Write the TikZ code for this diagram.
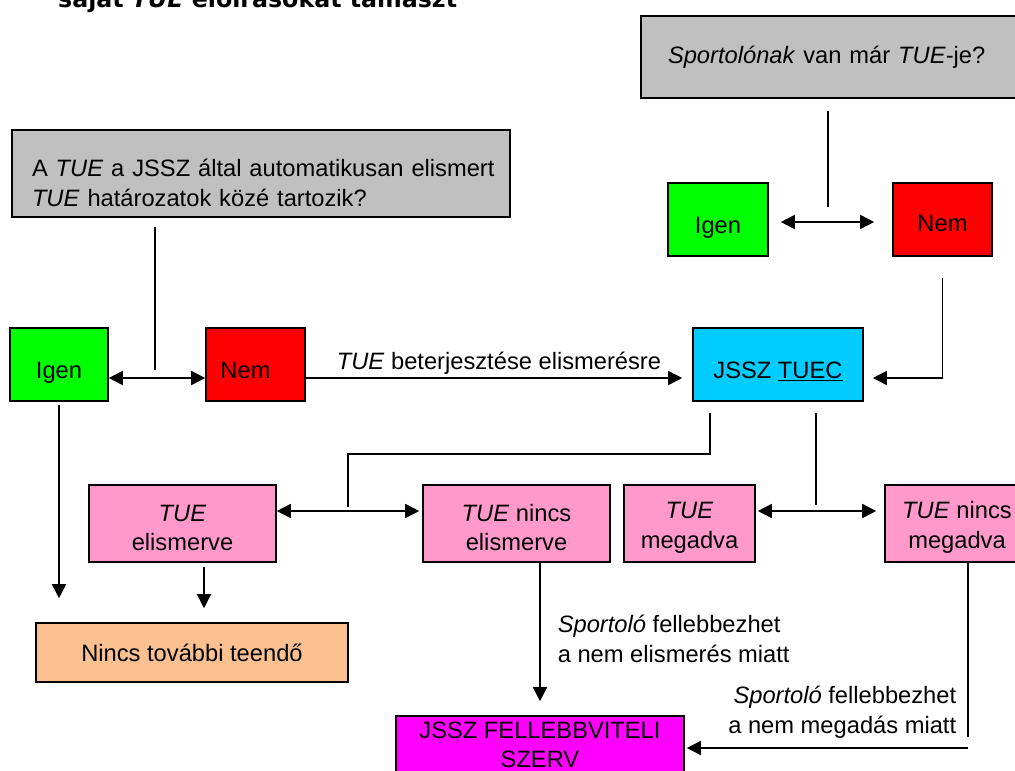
\documentclass[tikz,border=0pt]{standalone}
\usepackage{fontspec}
\setmainfont{Liberation Sans}
\newfontfamily\titlefont{DejaVu Sans}
\usetikzlibrary{calc, arrows.meta}

\definecolor{askgray}{HTML}{C0C0C0}
\definecolor{yesgreen}{HTML}{00FF00}
\definecolor{nored}{HTML}{FF0000}
\definecolor{tueccyan}{HTML}{00CCFF}
\definecolor{resultpink}{HTML}{FF99CC}
\definecolor{donepeach}{HTML}{FAC08F}
\definecolor{appealmagenta}{HTML}{FF00FF}
\newcommand{\topgap}[1]{\rule{0pt}{#1}}

\begin{document}
\begin{tikzpicture}[x=1pt, y=-1pt,
  box/.style={draw, line width=1.6pt, inner sep=0pt, align=center,
    font=\fontsize{23.7}{29.5}\selectfont},
  lowtext/.style={text height=28pt, text depth=0pt},
  conn/.style={line width=1.6pt},
  arr/.style={conn, -{Triangle[length=14pt,width=14pt]}},
  dblarr/.style={conn, {Triangle[length=14pt,width=14pt]}-{Triangle[length=14pt,width=14pt]}},
  note/.style={inner sep=0pt, font=\fontsize{23.7}{30}\selectfont}]
\useasboundingbox (0,0) rectangle (1015,771);
\clip (0,0) rectangle (1015,771);
% Heading, cut off at the top edge
\node[anchor=base west, inner sep=0pt, font=\titlefont\bfseries\fontsize{23.7}{29}\selectfont] (title) at (58,8) {saját \textit{TUE} előírásokat támaszt};
% Questions
\node[box, fill=askgray, minimum height=87pt, text width=478pt, inner xsep=10pt, align=left] (qleft) at (261,173.5)
  {\topgap{36pt}\hspace*{10pt}A \textit{TUE} a JSSZ által automatikusan elismert\\\hspace*{10pt}\textit{TUE} határozatok közé tartozik?};
\node[box, fill=askgray, minimum height=82pt, text width=335pt, inner xsep=27pt, align=left] (qright) at (835.5,57)
  {\textit{Sportolónak} van már \textit{TUE}-je?};
% Answers
\node[box, lowtext, fill=yesgreen, minimum width=98pt, minimum height=73pt] (igenL) at (59,364.5) {Igen};
\node[box, lowtext, fill=nored, minimum width=99pt, minimum height=73pt] (nemL) at (255.5,364.5) {Nem\hspace*{20pt}};
\node[box, lowtext, fill=yesgreen, minimum width=100pt, minimum height=73pt] (igenR) at (718,219.5) {Igen};
\node[box, fill=nored, minimum width=99pt, minimum height=73pt, text height=23pt, text depth=0pt] (nemR) at (942.5,219.5) {Nem};
\node[box, lowtext, fill=tueccyan, minimum width=170pt, minimum height=73pt] (tuec) at (778,364.5) {JSSZ \underline{TUEC}};
% Decisions
\node[box, fill=resultpink, minimum width=187pt, minimum height=77pt] (elis) at (182.5,523.5) {\topgap{25pt}\textit{TUE}\\elismerve};
\node[box, fill=resultpink, minimum width=187pt, minimum height=77pt] (nelis) at (516.5,523.5) {\topgap{25pt}\textit{TUE} nincs\\elismerve};
\node[box, fill=resultpink, minimum width=131pt, minimum height=77pt] (mega) at (689.5,523.5) {\topgap{25pt}\textit{TUE}\\megadva};
\node[box, fill=resultpink, minimum width=144pt, minimum height=77pt] (nmega) at (957,523.5) {\topgap{25pt}\textit{TUE} nincs\\megadva};
\node[box, fill=donepeach, minimum width=312pt, minimum height=59pt] (done) at (192,652.5) {Nincs további teendő};
\node[box, fill=appealmagenta, minimum width=288pt, minimum height=58pt] (appeal) at (540,745) {JSSZ FELLEBBVITELI\\SZERV};
% Helper points
\coordinate (rowA) at (0,378);
\coordinate (rowB) at (0,222);
\coordinate (rowC) at (0,511);
\coordinate (qlstem) at (155,370);
\coordinate (qrstem) at (828,207);
\coordinate (tlstem) at (710,413);
\coordinate (knee) at (348,454);
\coordinate (elstem) at (348,507);
\coordinate (trstem) at (816,413);
\coordinate (trend) at (816,505);
\coordinate (elisdrop) at (204,567);
\coordinate (nmdrop) at (968,737);
\coordinate (nmturn) at (968,748);
% Left question
\draw[conn] ([yshift=-9pt]qleft.south -| qlstem) -- (qlstem);
\draw[dblarr] (igenL.east |- rowA) -- (nemL.west |- rowA);
\draw[arr, shorten >=10pt] (nemL.east |- rowA) -- (tuec.west |- rowA)
  node[midway, above=3pt, note] (submit) {\textit{TUE} beterjesztése elismerésre};
\draw[arr] ([yshift=-3pt]igenL.south) -- ([yshift=24pt]igenL.south |- done.north);
% Right question
\draw[conn] ([yshift=-12pt]qright.south -| qrstem) -- (qrstem);
\draw[dblarr, shorten <=12pt, shorten >=18pt] (igenR.east |- rowB) -- (nemR.west |- rowB);
\draw[arr, shorten >=9pt] ([yshift=-21pt]nemR.south) |- (tuec.east |- rowA);
% TUEC outcomes
\draw[conn] (tlstem) |- (knee) -- (elstem);
\draw[dblarr, shorten >=3pt] (elis.east |- rowC) -- (nelis.west |- rowC);
\draw[conn] (trstem) -- (trend);
\draw[dblarr, shorten <=2pt, shorten >=8pt] (mega.east |- rowC) -- (nmega.west |- rowC);
\draw[arr] (elisdrop) -- ([yshift=14pt]elisdrop |- done.north);
% Appeals
\draw[arr] (appeal.north |- nelis.south) -- ([yshift=14pt]appeal.north)
  node[pos=0.55, right=17pt, note, align=left] (appealA) {\textit{Sportoló} fellebbezhet\\a nem elismerés miatt};
\draw[conn] (nmdrop |- nmega.south) -- (nmdrop)
  node[pos=0.857, left=11pt, note, align=right] (appealB) {\textit{Sportoló} fellebbezhet\\a nem megadás miatt};
\draw[arr, shorten >=2pt] (nmturn) -- (appeal.east |- nmturn);
\end{tikzpicture}
\end{document}
